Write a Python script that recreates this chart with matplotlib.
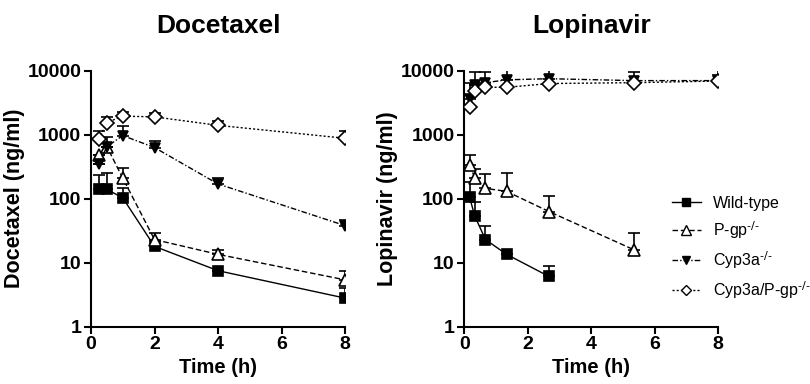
import numpy as np
import matplotlib
matplotlib.use("Agg")
import matplotlib.pyplot as plt
from matplotlib.ticker import FixedLocator, NullLocator
from matplotlib.lines import Line2D

plt.rcParams['font.family'] = ['Liberation Sans', 'DejaVu Sans']
plt.rcParams['mathtext.default'] = 'regular'

# Docetaxel data
doc_t = [0.25, 0.5, 1, 2, 4, 8]
doc_wt = [140, 140, 103, 18, 7.5, 2.8]
doc_wt_up = [234, 250, 145, 18, 7.5, 4.0]
doc_pgp = [480, 650, 210, 23, 13.5, 5.4]
doc_pgp_up = [480, 650, 300, 29, 16, 7.5]
doc_cyp = [350, 650, 970, 630, 170, 38]
doc_cyp_up = [350, 910, 1370, 810, 208, 46]
doc_dko = [850, 1550, 1950, 1900, 1400, 880]
doc_dko_up = [1150, 1900, 2290, 2150, 1650, 1160]

# Lopinavir data
lop_t = [0.167, 0.333, 0.667, 1.333, 2.667, 5.333, 8]
lop_wt_t = [0.167, 0.333, 0.667, 1.333, 2.667]
lop_wt = [105, 53, 23, 13.5, 6.1]
lop_wt_up = [185, 90, 38, 13.5, 9.0]
lop_pgp_t = [0.167, 0.333, 0.667, 1.333, 2.667, 5.333]
lop_pgp = [340, 210, 145, 130, 63, 16]
lop_pgp_up = [480, 290, 240, 255, 112, 29]
lop_cyp = [3600, 6000, 6500, 7200, 7500, 7000, 7000]
lop_cyp_up = [6500, 9500, 9500, 10500, 11000, 9600, 10500]
lop_dko = [2700, 4900, 5500, 5500, 6300, 6500, 6900]
lop_dko_up = [2700, 6000, 6000, 5500, 6300, 6500, 8700]

labels = ['Wild-type', 'P-gp$^{\\text{-/-}}$', 'Cyp3a$^{\\text{-/-}}$',
          'Cyp3a/P-gp$^{\\text{-/-}}$']
styles = [
    dict(ls='-', marker='s', mfc='black', mec='black', ms=7),
    dict(ls=(0, (4, 2)), marker='^', mfc='white', mec='black', ms=8),
    dict(ls=(0, (4, 1.5, 1, 1.5)), marker='v', mfc='black', mec='black', ms=7),
    dict(ls=(0, (1.5, 1.5)), marker='D', mfc='white', mec='black', ms=7),
]


def draw(ax, t, y, up, st):
    y = np.array(y, dtype=float)
    up = np.array(up, dtype=float)
    err = np.clip(up - y, 0, None)
    ax.errorbar(t, y, yerr=[np.zeros_like(err), err], color='black', lw=1,
                elinewidth=1.2, capsize=4, capthick=1.2,
                mew=1.2, zorder=3, **st)


fig = plt.figure(figsize=(8.1, 3.84), dpi=100)
ax1 = fig.add_axes([91 / 810, 1 - 326.7 / 384, 254 / 810, 256 / 384])
ax2 = fig.add_axes([464.3 / 810, 1 - 326.7 / 384, 254 / 810, 256 / 384])

draw(ax1, doc_t, doc_wt, doc_wt_up, styles[0])
draw(ax1, doc_t, doc_pgp, doc_pgp_up, styles[1])
draw(ax1, doc_t, doc_cyp, doc_cyp_up, styles[2])
draw(ax1, doc_t, doc_dko, doc_dko_up, styles[3])

draw(ax2, lop_wt_t, lop_wt, lop_wt_up, styles[0])
draw(ax2, lop_pgp_t, lop_pgp, lop_pgp_up, styles[1])
draw(ax2, lop_t, lop_cyp, lop_cyp_up, styles[2])
draw(ax2, lop_t, lop_dko, lop_dko_up, styles[3])

for ax, title, ylab in [(ax1, 'Docetaxel', 'Docetaxel (ng/ml)'),
                        (ax2, 'Lopinavir', 'Lopinavir (ng/ml)')]:
    ax.set_yscale('log')
    ax.set_ylim(1, 10000)
    ax.set_xlim(0, 8)
    ax.set_xticks([0, 2, 4, 6, 8])
    ax.yaxis.set_major_locator(FixedLocator([1, 10, 100, 1000, 10000]))
    ax.yaxis.set_minor_locator(NullLocator())
    ax.set_yticklabels(['1', '10', '100', '1000', '10000'])
    ax.spines['top'].set_visible(False)
    ax.spines['right'].set_visible(False)
    ax.spines['left'].set_linewidth(1.5)
    ax.spines['bottom'].set_linewidth(1.5)
    ax.tick_params(width=1.5, length=5, labelsize=14, direction='out', pad=2)
    for lab in ax.get_xticklabels() + ax.get_yticklabels():
        lab.set_fontweight('bold')
    ax.set_xlabel('Time (h)', fontsize=14.5, fontweight='bold', labelpad=3)
    ax.set_ylabel(ylab, fontsize=15.5, fontweight='bold', labelpad=2)
    ax.set_title(title, fontsize=19, fontweight='bold', pad=27)
    for s in ax.spines.values():
        s.set_clip_on(False)

# legend without error bars
handles = [Line2D([], [], color='black', lw=1, mew=1,
                  **dict(st, ms=st['ms'] - 1.5)) for st in styles]
fig.legend(handles, labels, loc='upper left',
           bbox_to_anchor=(672 / 810, 1 - 196 / 384), frameon=False,
           fontsize=11.5, handlelength=1.8, labelspacing=0.52,
           handletextpad=0.75, borderpad=0, borderaxespad=0)

fig.savefig('out.png', dpi=100)
